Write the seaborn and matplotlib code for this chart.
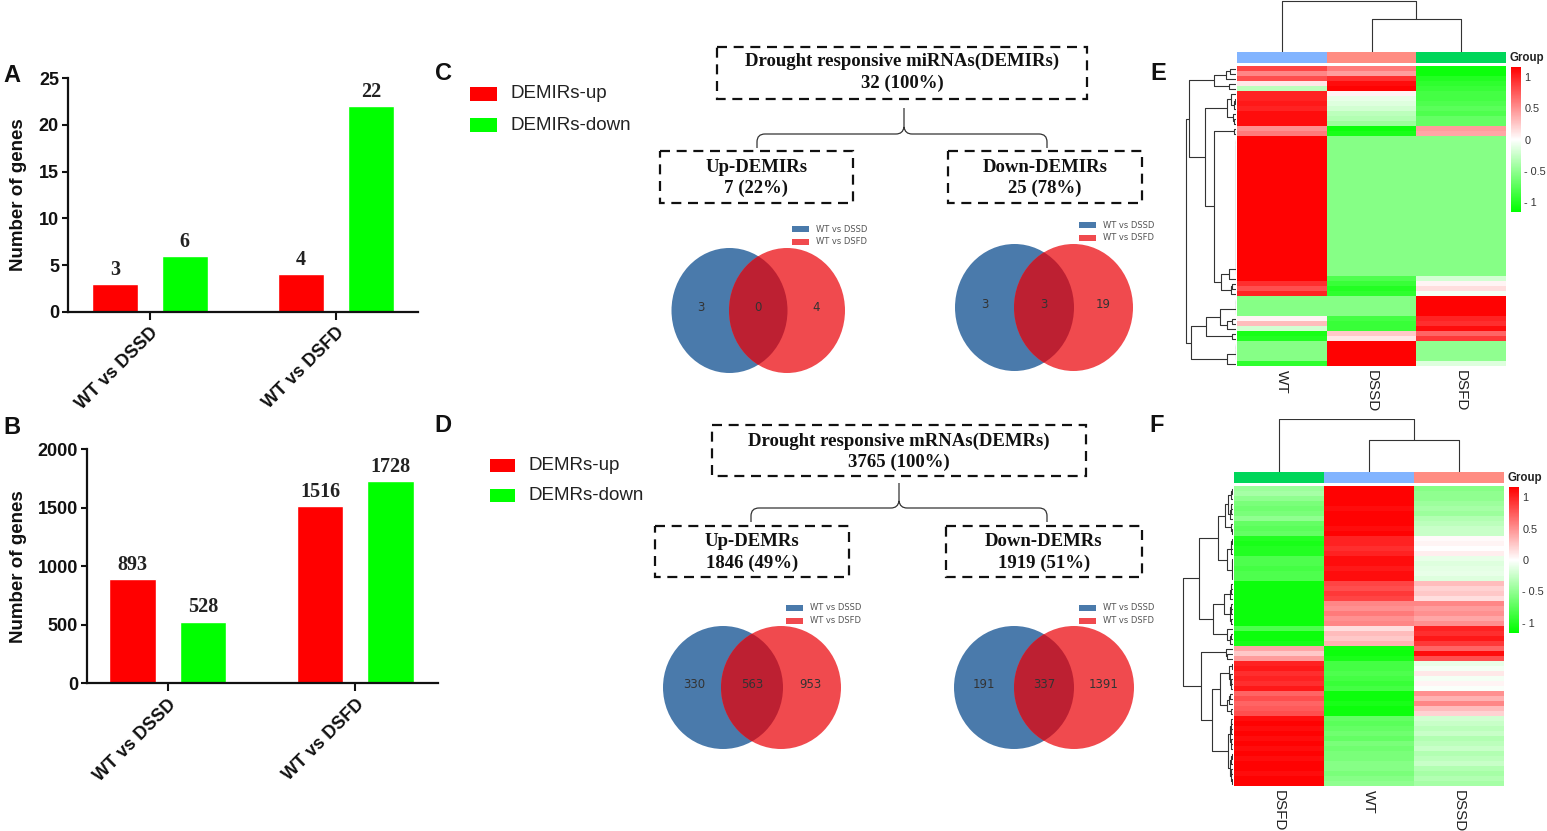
import numpy as np
import pandas as pd
import matplotlib
matplotlib.use("Agg")
import matplotlib.pyplot as plt
import seaborn as sns
from matplotlib.patches import Rectangle, Ellipse, PathPatch
from matplotlib.path import Path
from matplotlib.colors import LinearSegmentedColormap, ListedColormap

sns.set_style("ticks")
plt.rcParams['font.family'] = ['Liberation Sans', 'DejaVu Sans']

W, H = 1547, 831

# ---------------- data ----------------
comparisons = ['WT vs DSSD', 'WT vs DSFD']
demir_up = [3, 4]
demir_down = [6, 22]
demr_up = [893, 1516]
demr_down = [528, 1728]

demir_counts = [32, 7, 25]      # total, up, down
demr_counts = [3765, 1846, 1919]

# venn counts: only WT vs DSSD, shared, only WT vs DSFD
venn_demir_up = [3, 0, 4]
venn_demir_down = [3, 3, 19]
venn_demr_up = [330, 563, 953]
venn_demr_down = [191, 337, 1391]
venn_sets = ['WT vs DSSD', 'WT vs DSFD']

# heatmap E (miRNAs), scaled expression per row
groups_e = ['WT', 'DSSD', 'DSFD']
wt_e = [0.85, 0.55, 0.8, 0.1, -0.3, 1.0, 1.0, 1.05, 1.0, 1.1, 1.1, 1.1, 0.5, 0.6] + [1.15] * 28 + \
       [1.15, 0.95, 0.8, 1.0, -0.55, -0.55, -0.55, -0.55, 0.05, 0.3, -0.2, -1.05, -1.0,
        -0.55, -0.55, -0.55, -0.55, -0.95]
dssd_e = [0.6, 0.45, 0.95, 1.1, 1.15, 0.05, -0.1, -0.15, -0.2, -0.3, -0.35, -0.45, -1.1, -1.05] + [-0.55] * 28 + \
         [-0.8, -0.9, -1.0, -0.95, -0.55, -0.55, -0.55, -0.55, -0.85, -0.9, -0.9, 0.25, 0.1,
          1.15, 1.15, 1.15, 1.15, 1.15]
dsfd_e = [-1.1, -1.1, -1.0, -0.95, -0.9, -0.85, -0.85, -0.8, -0.75, -0.8, -0.7, -0.7, 0.45, 0.4] + [-0.55] * 28 + \
         [-0.2, 0.05, 0.15, -0.05, 1.15, 1.15, 1.15, 1.15, 1.0, 0.95, 1.1, 0.7, 0.9,
          -0.5, -0.5, -0.5, -0.5, -0.15]
col_links_e = [(1, 2, 0.65), (0, 3, 1.0)]

# heatmap F (mRNAs)
groups_f = ['DSFD', 'WT', 'DSSD']
dsfd_f = [-0.45, -0.4, -0.5, -0.6, -0.65, -0.6, -0.5, -0.7, -0.75, -0.7,
          -1.0, -1.05, -1.0, -1.0, -0.8, -0.8, -0.85, -0.8, -0.8, -1.1,
          -1.1, -1.1, -1.1, -1.1, -1.1, -1.1, -1.1, -1.1, -0.8, -1.1,
          -1.1, -1.05, 0.4, 0.25, 0.45, 1.0, 1.05, 0.95, 1.0, 0.95,
          1.05, 0.7, 0.8, 0.7, 0.75, 0.8, 1.1, 1.15, 1.1, 1.15,
          1.1, 1.15, 1.1, 1.15, 1.1, 1.15, 1.15, 1.1, 1.15, 1.15]
wt_f = [1.15, 1.15, 1.15, 1.15, 1.1, 1.15, 1.15, 1.15, 1.1, 1.15,
        1.0, 1.0, 0.95, 1.0, 1.1, 1.1, 1.05, 1.1, 1.1, 0.85,
        0.8, 0.9, 0.85, 0.55, 0.5, 0.6, 0.5, 0.55, 0.15, 0.3,
        0.25, 0.35, -1.1, -1.1, -1.05, -0.85, -0.85, -0.8, -0.85, -0.9,
        -0.85, -1.1, -1.1, -1.05, -1.1, -1.1, -0.7, -0.75, -0.7, -0.65,
        -0.7, -0.6, -0.65, -0.6, -0.6, -0.55, -0.55, -0.6, -0.55, -0.5]
dssd_f = [-0.55, -0.5, -0.5, -0.45, -0.4, -0.45, -0.35, -0.3, -0.25, -0.25,
          0.02, 0.05, 0.0, 0.08, -0.1, -0.15, -0.12, -0.1, -0.15, 0.3,
          0.2, 0.25, 0.15, 0.55, 0.45, 0.5, 0.4, 0.5, 1.0, 0.95,
          1.05, 0.9, 0.7, 1.1, 0.8, -0.1, -0.05, 0.1, -0.05, 0.05,
          -0.02, 0.5, 0.35, 0.55, 0.3, 0.2, -0.2, -0.25, -0.3, -0.25,
          -0.35, -0.3, -0.25, -0.35, -0.3, -0.25, -0.35, -0.4, -0.35, -0.4]
col_links_f = [(1, 2, 0.6), (0, 3, 1.0)]

group_colors = {'WT': '#82b4ff', 'DSSD': '#ff8c82', 'DSFD': '#00d65a'}
heat_cmap = LinearSegmentedColormap.from_list('gwr', ['#00ff00', '#ffffff', '#ff0000'])
venn_blue, venn_red, venn_mix = '#4a7aab', '#f04a4e', '#bd2032'

fig = plt.figure(figsize=(W / 100, H / 100), dpi=100)


def px_axes(x0, y0, x1, y1, **kw):
    return fig.add_axes([x0 / W, 1 - y1 / H, (x1 - x0) / W, (y1 - y0) / H], **kw)


canvas = px_axes(0, 0, W, H)
canvas.set_xlim(0, W)
canvas.set_ylim(H, 0)
canvas.axis('off')


# ---------------- bar panels ----------------
def bar_panel(rect, up, down, ymax, step, xlim, lab_x):
    ax = px_axes(*rect)
    df = pd.DataFrame({'comparison': comparisons * 2,
                       'direction': ['up'] * len(up) + ['down'] * len(down),
                       'count': up + down})
    sns.barplot(data=df, x='comparison', y='count', hue='direction',
                palette=['#ff0000', '#00ff00'], width=0.75, gap=0.34,
                saturation=1, legend=False, ax=ax)
    for c in ax.containers:
        ax.bar_label(c, padding=3, fontfamily='Liberation Serif',
                     fontweight='bold', fontsize=14.5, color='#222222')
    ax.set_ylim(0, ymax)
    ax.set_yticks(np.arange(0, ymax + 1, step))
    ax.set_xlim(*xlim)
    sns.despine(ax=ax)
    for s in ['left', 'bottom']:
        ax.spines[s].set_linewidth(1.6)
        ax.spines[s].set_color('#111111')
    ax.tick_params(axis='y', length=4.5, width=1.5, labelsize=13, pad=2, colors='#111111')
    ax.tick_params(axis='x', length=6, width=1.5, labelsize=13, pad=3, colors='#111111')
    for t in ax.get_yticklabels():
        t.set_fontweight('bold')
    ax.set_xticks([0, 1])
    ax.set_xticklabels(comparisons, rotation=45, ha='right', va='top',
                       rotation_mode='anchor', fontweight='bold')
    ax.set_xlabel('')
    ax.set_ylabel('Number of genes', fontsize=13.5, fontweight='bold', color='#111111')
    ax.yaxis.set_label_coords(lab_x, 0.5)
    return ax


bar_panel((68, 78.3, 418, 311.7), demir_up, demir_down, 25, 5, (-0.44, 1.44), -0.117)
bar_panel((87, 449.3, 438, 683.3), demr_up, demr_down, 2000, 500, (-0.43, 1.44), -0.171)


# ---------------- C / D tree boxes ----------------
def dashed_box(x0, y0, x1, y1, lines, ys):
    canvas.add_patch(Rectangle((x0, y0), x1 - x0, y1 - y0, fill=False, ec='#111111',
                               lw=1.6, linestyle=(0, (4.5, 3))))
    for s, y in zip(lines, ys):
        canvas.text((x0 + x1) / 2, y, s, ha='center', va='center', fontsize=13.5,
                    fontfamily='Liberation Serif', fontweight='bold', color='#111111')


def brace(cx, y_stub, y_apex, y_bar, xl, xr, y_end):
    r = 8
    verts = [(cx, y_stub), (cx, y_apex),
             (cx, y_apex), (cx - 1, y_bar), (cx - r, y_bar), (xl + r, y_bar), (xl, y_bar), (xl, y_bar + r), (xl, y_end)]
    codes = [Path.MOVETO, Path.LINETO,
             Path.MOVETO, Path.CURVE3, Path.CURVE3, Path.LINETO, Path.CURVE3, Path.CURVE3, Path.LINETO]
    verts += [(cx, y_apex), (cx + 1, y_bar), (cx + r, y_bar), (xr - r, y_bar), (xr, y_bar), (xr, y_bar + r), (xr, y_end)]
    codes += [Path.MOVETO, Path.CURVE3, Path.CURVE3, Path.LINETO, Path.CURVE3, Path.CURVE3, Path.LINETO]
    canvas.add_patch(PathPatch(Path(verts, codes), fill=False, ec='#333333', lw=0.9))


def pct(n, total):
    return f"{n} ({round(100 * n / total)}%)"


dashed_box(717, 47, 1087, 99, ['Drought responsive miRNAs(DEMIRs)', pct(demir_counts[0], demir_counts[0])], [61, 83])
dashed_box(660, 151, 853, 203, ['Up-DEMIRs', pct(demir_counts[1], demir_counts[0])], [167, 188])
dashed_box(948, 151, 1142, 203, ['Down-DEMIRs', pct(demir_counts[2], demir_counts[0])], [167, 188])
brace(904, 108, 127, 134, 757, 1047, 148)

dashed_box(712, 425, 1086, 476, ['Drought responsive mRNAs(DEMRs)', pct(demr_counts[0], demr_counts[0])], [441, 462])
dashed_box(655, 526, 849, 577, ['Up-DEMRs', pct(demr_counts[1], demr_counts[0])], [542, 563])
dashed_box(946, 526, 1142, 577, ['Down-DEMRs', pct(demr_counts[2], demr_counts[0])], [542, 563])
brace(899, 483, 501, 508, 751, 1047, 522)


def updown_legend(x, ys, w, h, labels):
    for y, col, lab in zip(ys, ['#ff0000', '#00ff00'], labels):
        canvas.add_patch(Rectangle((x, y - h / 2), w, h, fc=col, ec='none'))
        canvas.text(x + w + 13, y, lab, ha='left', va='center', fontsize=13.5, color='#222222')


updown_legend(470, [94, 125], 27, 14, ['DEMIRs-up', 'DEMIRs-down'])
updown_legend(490, [465, 495.5], 25, 13, ['DEMRs-up', 'DEMRs-down'])


# ---------------- venns ----------------
def venn(cxb, cxr, cy, w, h, counts, lx, ly):
    blue = Ellipse((cxb, cy), w, h, fc=venn_blue, ec='none')
    canvas.add_patch(blue)
    canvas.add_patch(Ellipse((cxr, cy), w, h, fc=venn_red, ec='none'))
    mix = Ellipse((cxr, cy), w, h, fc=venn_mix, ec='none')
    canvas.add_patch(mix)
    mix.set_clip_path(blue)
    sep = cxr - cxb
    for x, n in zip([cxb - sep / 2, (cxb + cxr) / 2, cxr + sep / 2], counts):
        canvas.text(x, cy - 3, str(n), ha='center', va='center', fontsize=8.5,
                    fontfamily='DejaVu Sans', color='#333333')
    for i, (col, lab) in enumerate(zip([venn_blue, venn_red], venn_sets)):
        y = ly + i * 12.5
        canvas.add_patch(Rectangle((lx, y - 3), 17, 6, fc=col, ec='none'))
        canvas.text(lx + 24, y, lab, ha='left', va='center', fontsize=6,
                    fontfamily='DejaVu Sans', color='#555555')


venn(729.5, 787, 310.5, 116, 125, venn_demir_up, 792, 229)
venn(1014.5, 1073.5, 307.5, 119, 127, venn_demir_down, 1079, 225)
venn(723, 781, 687.5, 120, 123, venn_demr_up, 786, 608)
venn(1014, 1074, 687.5, 120, 123, venn_demr_down, 1079, 608)


# ---------------- heatmaps ----------------
def row_dendrogram(ax, mat):
    clusters = [[[i], i + 0.5, 0.0] for i in range(len(mat))]
    hmax = 0.0
    while len(clusters) > 1:
        dists = [max(np.linalg.norm(mat[i] - mat[j]) for i in a[0] for j in b[0])
                 for a, b in zip(clusters[:-1], clusters[1:])]
        k = int(np.argmin(dists))
        h = dists[k]
        a, b = clusters[k], clusters[k + 1]
        ax.plot([a[2], h, h, b[2]], [a[1], a[1], b[1], b[1]], color='#333333', lw=0.8)
        clusters[k:k + 2] = [[a[0] + b[0], (a[1] + b[1]) / 2, h]]
        hmax = max(hmax, h)
    ax.set_xlim(hmax * 1.01, 0)
    ax.set_ylim(len(mat), 0)
    ax.axis('off')


def col_dendrogram(ax, links, top):
    pos = {0: 0.5, 1: 1.5, 2: 2.5}
    ht = {0: 0.0, 1: 0.0, 2: 0.0}
    for idx, (a, b, h) in enumerate(links):
        ax.plot([pos[a], pos[a], pos[b], pos[b]], [ht[a], h, h, ht[b]], color='#333333', lw=0.8)
        pos[3 + idx] = (pos[a] + pos[b]) / 2
        ht[3 + idx] = h
    ax.set_xlim(0, 3)
    ax.set_ylim(0, top)
    ax.axis('off')


def heat_panel(groups, cols, links, hx0, hx1, hy0, hy1, dend_x0, cdend_y0, cdend_top, cb):
    df = pd.DataFrame(dict(zip(groups, cols)))
    ax = px_axes(hx0, hy0, hx1, hy1)
    cax = px_axes(*cb)
    sns.heatmap(df, ax=ax, cmap=heat_cmap, vmin=-1.16, vmax=1.16, cbar_ax=cax,
                cbar_kws={'ticks': [1, 0.5, 0, -0.5, -1]},
                xticklabels=True, yticklabels=False, rasterized=True)
    ax.set_xticklabels(groups, rotation=270, ha='center', va='top', fontsize=11, color='#222222')
    ax.tick_params(axis='x', length=0, pad=3)
    cax.set_yticklabels(['1', '0.5', '0', '- 0.5', '- 1'])
    cax.tick_params(length=0, labelsize=7.8, pad=2.5, colors='#333333')
    canvas.text(cb[0] - 2, hy0 - 8, 'Group', ha='left', va='center', fontsize=8.3,
                fontweight='bold', color='#222222')

    gax = px_axes(hx0, hy0 - 14, hx1, hy0 - 3)
    sns.heatmap(np.array([[0, 1, 2]]), ax=gax, cmap=ListedColormap([group_colors[g] for g in groups]),
                cbar=False, xticklabels=False, yticklabels=False)

    rax = px_axes(dend_x0, hy0, hx0 - 1, hy1)
    row_dendrogram(rax, df.to_numpy())
    dax = px_axes(hx0, cdend_y0, hx1, hy0 - 14)
    col_dendrogram(dax, links, cdend_top)


heat_panel(groups_e, [wt_e, dssd_e, dsfd_e], col_links_e, 1237, 1506, 66, 366,
           1185, 0, 1.02, (1511, 67, 1521, 212))
heat_panel(groups_f, [dsfd_f, wt_f, dssd_f], col_links_f, 1234, 1504, 486, 786,
           1182, 419, 1.0, (1509, 487, 1519, 633))

# ---------------- panel letters ----------------
for letter, x, y in [('A', 12, 75), ('B', 12, 428), ('C', 443, 73), ('D', 443, 425),
                     ('E', 1158, 73), ('F', 1157, 425)]:
    canvas.text(x, y, letter, ha='center', va='center', fontsize=17, fontweight='bold', color='#111111')

fig.savefig('out.png', dpi=100)
